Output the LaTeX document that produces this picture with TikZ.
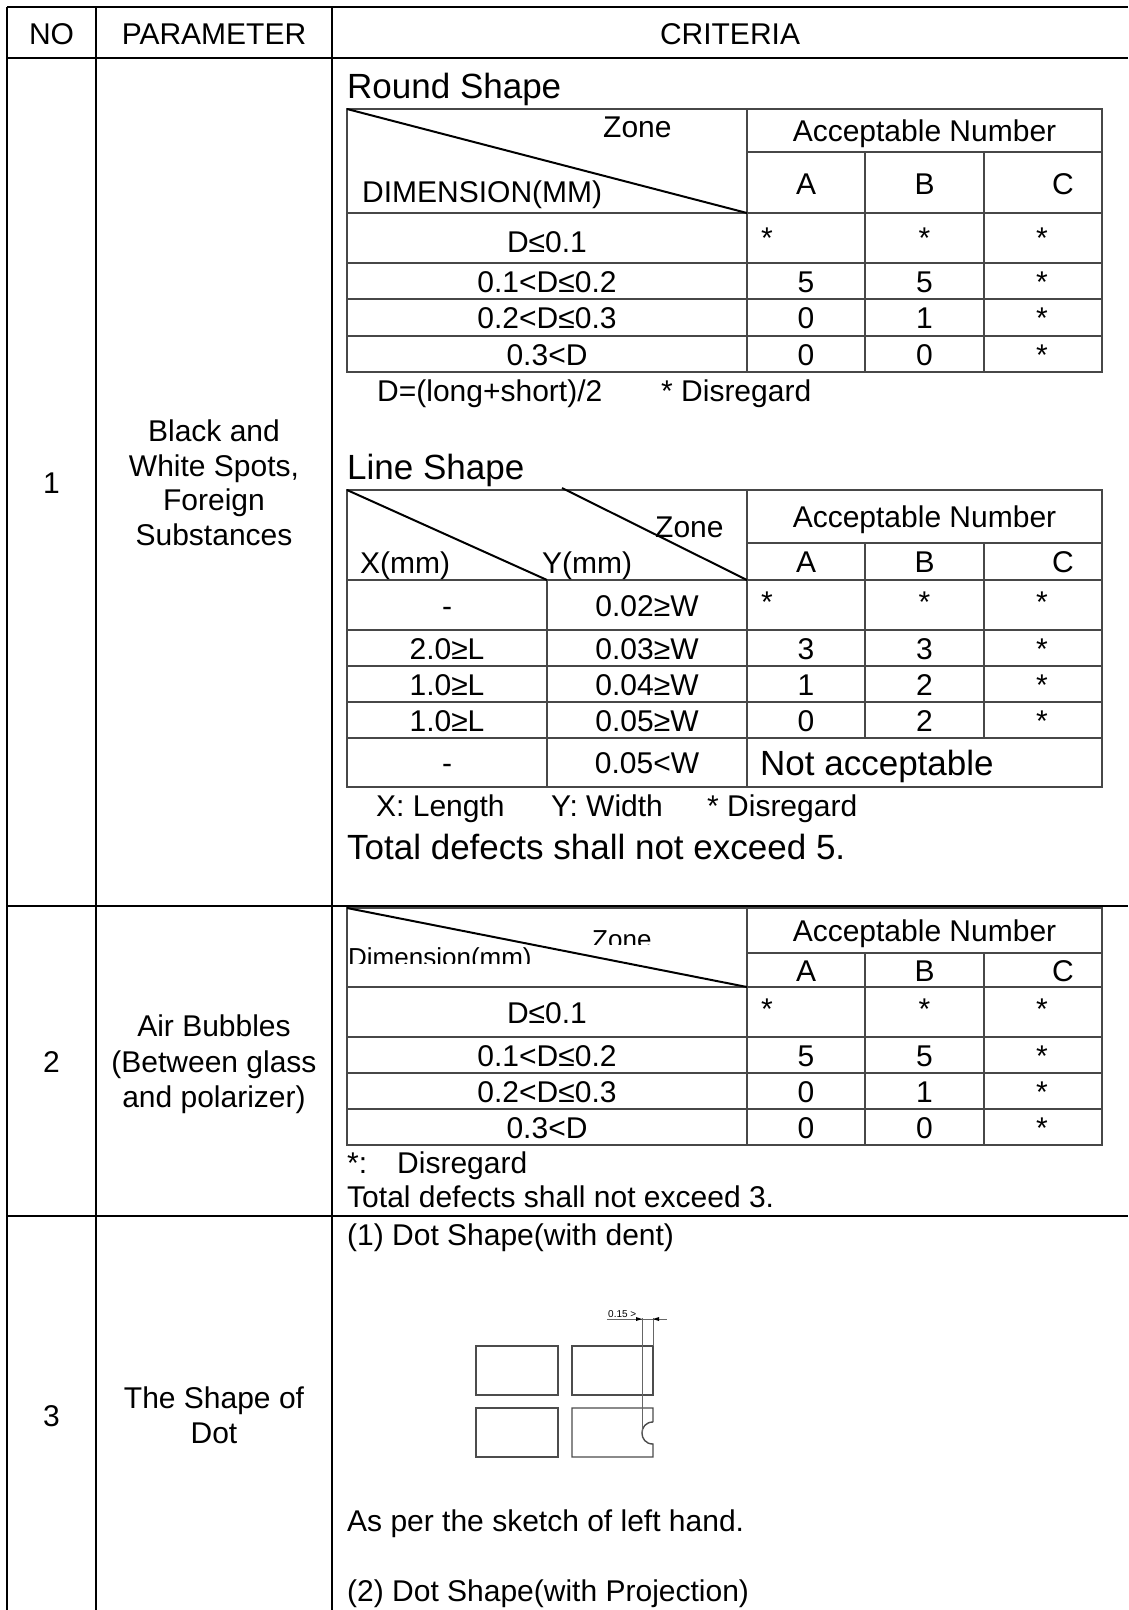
\documentclass[tikz,border=0pt]{standalone}
\usepackage{fontspec}
\setmainfont{Liberation Sans}
\begin{document}
\begin{tikzpicture}[x=1pt,y=-1pt,
  outer/.style={line width=2.4pt, black},
  inner/.style={line width=1.8pt, black!72},
  diag/.style={line width=2pt, black},
  sk/.style={line width=1.4pt, black!70},
  dim/.style={line width=1pt, black!60},
  t/.style={inner sep=0pt, anchor=base, font=\fontsize{30}{34}\selectfont},
  tl/.style={t, anchor=base west},
  big/.style={inner sep=0pt, anchor=base west, font=\fontsize{35}{40}\selectfont},
  lbl/.style={inner sep=0pt, anchor=base west, font=\fontsize{26}{30}\selectfont},
  tiny/.style={inner sep=0pt, anchor=base west, font=\fontsize{10}{12}\selectfont}
]
\useasboundingbox (0,0) rectangle (1128,1610);
\fill[white] (0,0) rectangle (1128,1610);

% ---------- outer table ----------
\draw[outer] (7,7) -- (1128,7);
\draw[outer] (7,58) -- (1128,58);
\draw[outer] (7,906) -- (1128,906);
\draw[outer] (7,1216) -- (1128,1216);
\draw[outer] (7,7) -- (7,1610);
\draw[outer] (96,7) -- (96,1610);
\draw[outer] (332,7) -- (332,1610);

\node[t] (hno) at (51.5,44) {NO};
\node[t] (hpar) at (214,44) {PARAMETER};
\node[t] (hcri) at (730,44) {CRITERIA};

% left columns
\node[t] (n1) at (51.5,493) {1};
\node[t] (p1a) at (214,441) {Black and};
\node[t] (p1b) at (214,476) {White Spots,};
\node[t] (p1c) at (214,510) {Foreign};
\node[t] (p1d) at (214,545) {Substances};

\node[t] (n2) at (51.5,1072) {2};
\node[t] (p2a) at (214,1036) {Air Bubbles};
\node[t] (p2b) at (214,1072) {(Between glass};
\node[t] (p2c) at (214,1107) {and polarizer)};

\node[t] (n3) at (51.5,1426) {3};
\node[t] (p3a) at (214,1408) {The Shape of};
\node[t] (p3b) at (214,1443) {Dot};

% ---------- Round shape ----------
\node[big] (round) at (347,98) {Round Shape};
\draw[inner] (347,109) rectangle (1102,372);
\foreach \yy in {213,263,299,336} \draw[inner] (347,\yy) -- (1102,\yy);
\draw[inner] (747,152) -- (1102,152);
\draw[inner] (747,109) -- (747,372);
\draw[inner] (865,152) -- (865,372);
\draw[inner] (984,152) -- (984,372);
\draw[diag] (347,109) -- (747,213);
\node[tl] (rzone) at (603,137) {Zone};
\node[tl] (rdim) at (362,202) {DIMENSION(MM)};
\node[t] (racc) at (924.5,141) {Acceptable Number};
\node[t] (ra) at (806,194) {A};
\node[t] (rb) at (924.5,194) {B};
\node[t] (rc) at (1063,194) {C};

\node[t] (r1) at (547,252) {D≤0.1};
\node[tl] (r1a) at (761,248) {*};
\node[t] (r1b) at (924.5,248) {*};
\node[t] (r1c) at (1042,248) {*};
\node[t] (r2) at (547,292) {0.1<D≤0.2};
\node[t] (r2a) at (806,292) {5};
\node[t] (r2b) at (924.5,292) {5};
\node[t] (r2c) at (1042,292) {*};
\node[t] (r3) at (547,328) {0.2<D≤0.3};
\node[t] (r3a) at (806,328) {0};
\node[t] (r3b) at (924.5,328) {1};
\node[t] (r3c) at (1042,328) {*};
\node[t] (r4) at (547,365) {0.3<D};
\node[t] (r4a) at (806,365) {0};
\node[t] (r4b) at (924.5,365) {0};
\node[t] (r4c) at (1042,365) {*};
\node[tl] (rnote) at (377,401) {D=(long+short)/2};
\node[tl] (rnote2) at (661,401) {* Disregard};

% ---------- Line shape ----------
\node[big] (line) at (347,479) {Line Shape};
\draw[inner] (347,490) rectangle (1102,787);
\foreach \yy in {580,630,666,702,738} \draw[inner] (347,\yy) -- (1102,\yy);
\draw[inner] (747,543) -- (1102,543);
\draw[inner] (547,580) -- (547,787);
\draw[inner] (747,490) -- (747,787);
\draw[inner] (865,543) -- (865,738);
\draw[inner] (984,543) -- (984,738);
\draw[diag] (347,490) -- (547,580);
\draw[diag] (562,488) -- (747,580);
\node[tl] (lzone) at (655,537) {Zone};
\node[tl] (lx) at (360,573) {X(mm)};
\node[tl] (ly) at (542,573) {Y(mm)};
\node[t] (lacc) at (924.5,527) {Acceptable Number};
\node[t] (la) at (806,572) {A};
\node[t] (lb) at (924.5,572) {B};
\node[t] (lc) at (1063,572) {C};

\node[t] (l1x) at (447,616) {-};
\node[t] (l1y) at (647,616) {0.02≥W};
\node[tl] (l1a) at (761,612) {*};
\node[t] (l1b) at (924.5,612) {*};
\node[t] (l1c) at (1042,612) {*};
\node[t] (l2x) at (447,659) {2.0≥L};
\node[t] (l2y) at (647,659) {0.03≥W};
\node[t] (l2a) at (806,659) {3};
\node[t] (l2b) at (924.5,659) {3};
\node[t] (l2c) at (1042,659) {*};
\node[t] (l3x) at (447,695) {1.0≥L};
\node[t] (l3y) at (647,695) {0.04≥W};
\node[t] (l3a) at (806,695) {1};
\node[t] (l3b) at (924.5,695) {2};
\node[t] (l3c) at (1042,695) {*};
\node[t] (l4x) at (447,731) {1.0≥L};
\node[t] (l4y) at (647,731) {0.05≥W};
\node[t] (l4a) at (806,731) {0};
\node[t] (l4b) at (924.5,731) {2};
\node[t] (l4c) at (1042,731) {*};
\node[t] (l5x) at (447,773) {-};
\node[t] (l5y) at (647,773) {0.05<W};
\node[big] (l5n) at (760,775) {Not acceptable};
\node[tl] (lnx) at (376,816) {X: Length};
\node[tl] (lny) at (551,816) {Y: Width};
\node[tl] (lnd) at (707,816) {* Disregard};
\node[big] (ltot) at (347,859) {Total defects shall not exceed 5.};

% ---------- Air bubbles ----------
\draw[inner] (347,908) rectangle (1102,1145);
\foreach \yy in {987,1037,1073,1109} \draw[inner] (347,\yy) -- (1102,\yy);
\draw[inner] (747,953) -- (1102,953);
\draw[inner] (747,908) -- (747,1145);
\draw[inner] (865,953) -- (865,1145);
\draw[inner] (984,953) -- (984,1145);
\draw[diag] (347,908) -- (747,987);
\begin{scope}
  \clip (580,915) rectangle (700,944);
  \node[lbl] (bzone) at (592,948) {Zone};
\end{scope}
\begin{scope}
  \clip (340,940) rectangle (600,963);
  \node[lbl] (bdim) at (348,966) {Dimension(mm)};
\end{scope}
\node[t] (bacc) at (924.5,941) {Acceptable Number};
\node[t] (ba) at (806,981) {A};
\node[t] (bb) at (924.5,981) {B};
\node[t] (bc) at (1063,981) {C};

\node[t] (b1) at (547,1023) {D≤0.1};
\node[tl] (b1a) at (761,1019) {*};
\node[t] (b1b) at (924.5,1019) {*};
\node[t] (b1c) at (1042,1019) {*};
\node[t] (b2) at (547,1066) {0.1<D≤0.2};
\node[t] (b2a) at (806,1066) {5};
\node[t] (b2b) at (924.5,1066) {5};
\node[t] (b2c) at (1042,1066) {*};
\node[t] (b3) at (547,1102) {0.2<D≤0.3};
\node[t] (b3a) at (806,1102) {0};
\node[t] (b3b) at (924.5,1102) {1};
\node[t] (b3c) at (1042,1102) {*};
\node[t] (b4) at (547,1138) {0.3<D};
\node[t] (b4a) at (806,1138) {0};
\node[t] (b4b) at (924.5,1138) {0};
\node[t] (b4c) at (1042,1138) {*};
\node[tl] (bst) at (347,1173) {*:};
\node[tl] (bdis) at (397,1173) {Disregard};
\node[tl] (btot) at (347,1207) {Total defects shall not exceed 3.};

% ---------- Dot shape ----------
\node[tl] (d1) at (347,1245) {(1) Dot Shape(with dent)};
\draw[sk] (476,1346) rectangle (558,1395);
\draw[sk] (572,1346) rectangle (653,1395);
\draw[sk] (476,1408) rectangle (558,1457);
\draw[sk] (653,1422) -- (653,1408) -- (572,1408) -- (572,1457) -- (653,1457) -- (653,1444)
  .. controls (638.3,1444) and (638.3,1422) .. (653,1422);
\draw[dim] (642,1318) -- (642,1433);
\draw[dim] (653,1318) -- (653,1346);
\draw[dim] (607,1319) -- (667,1319);
\fill[black] (642,1319) -- (636,1317) -- (636,1321) -- cycle;
\fill[black] (653,1319) -- (659,1317) -- (659,1321) -- cycle;
\node[tiny] (d15) at (608,1317) {0.15 >};
\node[tl] (d2) at (347,1531) {As per the sketch of left hand.};
\node[tl] (d3) at (347,1601) {(2) Dot Shape(with Projection)};
\end{tikzpicture}
\end{document}
